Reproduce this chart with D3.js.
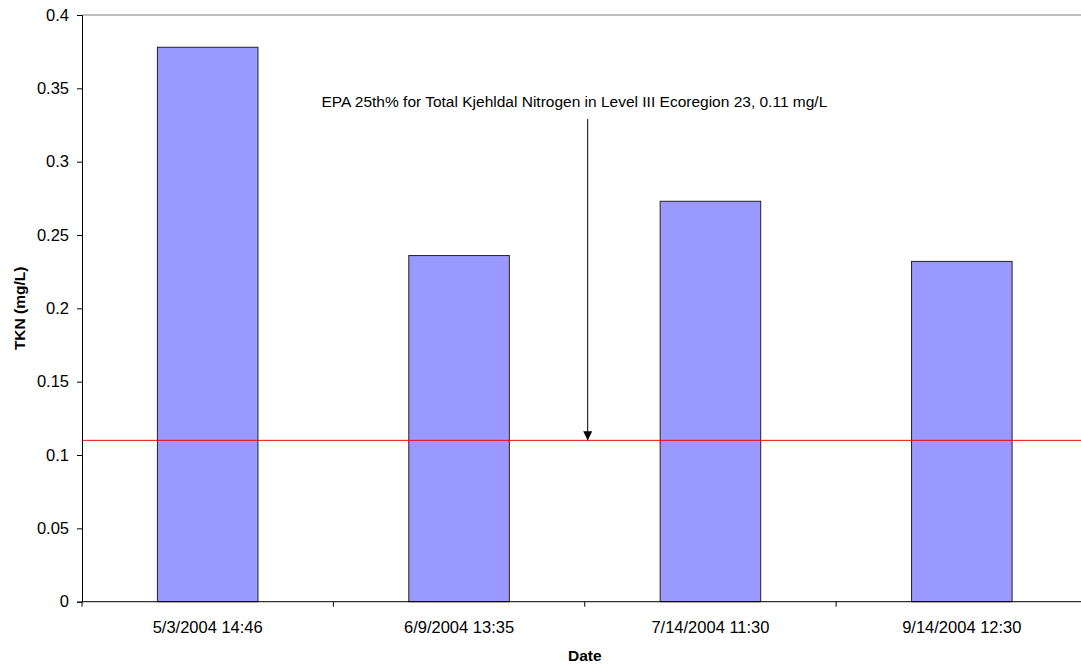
<!DOCTYPE html>
<html>
<head>
<meta charset="utf-8">
<script src="https://cdn.jsdelivr.net/npm/d3@7"></script>
<style>
  html, body { margin: 0; padding: 0; background: #fff; }
  svg { display: block; font-family: "Liberation Sans", Arial, sans-serif; }
</style>
</head>
<body>
<svg id="chart" width="1081" height="667"></svg>
<script>
// Sample dates and TKN results
const dates = ["5/3/2004 14:46", "6/9/2004 13:35", "7/14/2004 11:30", "9/14/2004 12:30"];
const tkn = [0.378, 0.236, 0.273, 0.232];
const yTicks = [0, 0.05, 0.1, 0.15, 0.2, 0.25, 0.3, 0.35, 0.4];
const criterion = 0.11;
const criterionLabel = "EPA 25th% for Total Kjehldal Nitrogen in Level III Ecoregion 23, 0.11 mg/L";

const svg = d3.select("#chart");
const plotLeft = 82, plotTop = 15, plotBottom = 601.7, plotRight = 1087.5;

const x = d3.scaleBand().domain(dates).range([plotLeft, plotRight]).paddingInner(0.6).paddingOuter(0.3);
const xEdge = d3.scaleLinear().domain([0, dates.length]).range([plotLeft, plotRight]);
const y = d3.scaleLinear().domain([0, 0.4]).range([plotBottom, plotTop]);

// Plot area top border
svg.append("line")
  .attr("x1", plotLeft).attr("x2", plotRight)
  .attr("y1", plotTop).attr("y2", plotTop)
  .attr("stroke", "#808080").attr("stroke-width", 1);

// Bars
svg.append("g").selectAll("rect").data(dates).join("rect")
  .attr("x", d => x(d))
  .attr("width", x.bandwidth())
  .attr("y", (d, i) => y(tkn[i]))
  .attr("height", (d, i) => y(0) - y(tkn[i]))
  .attr("fill", "#9999FF")
  .attr("stroke", "#222")
  .attr("stroke-width", 1);

// Criterion line
svg.append("line")
  .attr("x1", plotLeft).attr("x2", plotRight)
  .attr("y1", y(criterion)).attr("y2", y(criterion))
  .attr("stroke", "#e01010").attr("stroke-width", 1);

// Y axis
const yAxis = d3.axisLeft(y).tickValues(yTicks).tickSize(5).tickPadding(8)
  .tickFormat(d => d3.format("~g")(d));
const gy = svg.append("g").attr("transform", `translate(${plotLeft},0)`).call(yAxis);
gy.select(".domain").attr("stroke", "#000");
gy.selectAll(".tick line").attr("stroke", "#000");
gy.selectAll(".tick text").attr("font-size", 16.5).attr("fill", "#000")
  .attr("font-family", "Liberation Sans, Arial, sans-serif");

// X axis line and category boundary ticks
svg.append("line")
  .attr("x1", plotLeft).attr("x2", plotRight)
  .attr("y1", plotBottom).attr("y2", plotBottom)
  .attr("stroke", "#000").attr("stroke-width", 1);
svg.append("g").selectAll("line").data(d3.range(dates.length + 1)).join("line")
  .attr("x1", i => xEdge(i)).attr("x2", i => xEdge(i))
  .attr("y1", plotBottom).attr("y2", plotBottom + 5)
  .attr("stroke", "#000");
svg.append("g").selectAll("text").data(dates).join("text")
  .attr("x", d => x(d) + x.bandwidth() / 2)
  .attr("y", 633)
  .attr("text-anchor", "middle")
  .attr("font-size", 16.5)
  .text(d => d);

// Axis titles
svg.append("text")
  .attr("x", (plotLeft + plotRight) / 2).attr("y", 661)
  .attr("text-anchor", "middle")
  .attr("font-size", 15.5).attr("font-weight", "bold")
  .text("Date");
svg.append("text")
  .attr("transform", `translate(25,${(plotTop + plotBottom) / 2}) rotate(-90)`)
  .attr("text-anchor", "middle")
  .attr("font-size", 15.5).attr("font-weight", "bold")
  .text("TKN (mg/L)");

// Annotation with arrow pointing at the criterion line
const arrowX = 587.7;
svg.append("defs").append("marker")
  .attr("id", "head")
  .attr("viewBox", "0 0 10 10")
  .attr("refX", 10).attr("refY", 5)
  .attr("markerWidth", 9).attr("markerHeight", 9)
  .attr("markerUnits", "userSpaceOnUse")
  .attr("orient", "auto")
  .append("path").attr("d", "M0,0 L10,5 L0,10 Z").attr("fill", "#000");
svg.append("line")
  .attr("x1", arrowX).attr("x2", arrowX)
  .attr("y1", 119).attr("y2", y(criterion))
  .attr("stroke", "#000").attr("stroke-width", 1)
  .attr("marker-end", "url(#head)");
svg.append("text")
  .attr("x", 321.5).attr("y", 107)
  .attr("font-size", 15.5)
  .text(criterionLabel);
</script>
</body>
</html>
